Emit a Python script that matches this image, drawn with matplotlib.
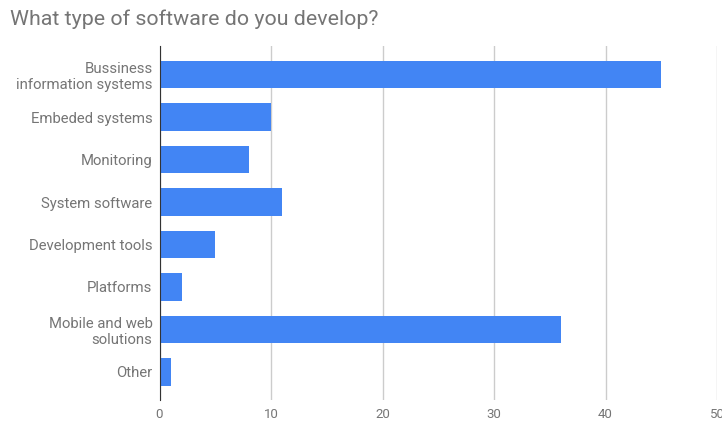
import matplotlib.pyplot as plt

categories = ["Bussiness\ninformation systems", "Embeded systems", "Monitoring",
              "System software", "Development tools", "Platforms",
              "Mobile and web\nsolutions", "Other"]
values = [45, 10, 8, 11, 5, 2, 36, 1]
xticks = [0, 10, 20, 30, 40, 50]

plt.rcParams['font.family'] = ['Roboto', 'DejaVu Sans']

fig = plt.figure(figsize=(7.22, 4.23), dpi=100)
ax = fig.add_axes([159.5 / 722, 1 - 400 / 423, (717 - 159.5) / 722, (400 - 46.5) / 423])

pos = list(range(len(categories)))
ax.barh(pos, values, height=0.64, color="#4285f4", zorder=3)
ax.set_ylim(len(categories) - 1 + 0.66, -0.66)
ax.set_xlim(0, 50)
ax.set_xticks(xticks)
ax.set_xticklabels([str(t) for t in xticks], color="#757575", fontsize=9.5)
ax.set_yticks(pos)
ax.set_yticklabels(categories, color="#757575", fontsize=10.7, linespacing=1.15)
ax.tick_params(length=0)
ax.tick_params(axis="x", pad=6)
ax.tick_params(axis="y", pad=5)
ax.grid(axis="x", color="#cccccc", linewidth=1, zorder=0)
for s in ["top", "right", "bottom"]:
    ax.spines[s].set_visible(False)
ax.spines["left"].set_color("#333333")
ax.spines["left"].set_zorder(4)

fig.text(10 / 722, 1 - 19 / 423, "What type of software do you develop?",
         fontsize=15.4, color="#757575", va="center", ha="left")

fig.savefig("out.png", dpi=100)
